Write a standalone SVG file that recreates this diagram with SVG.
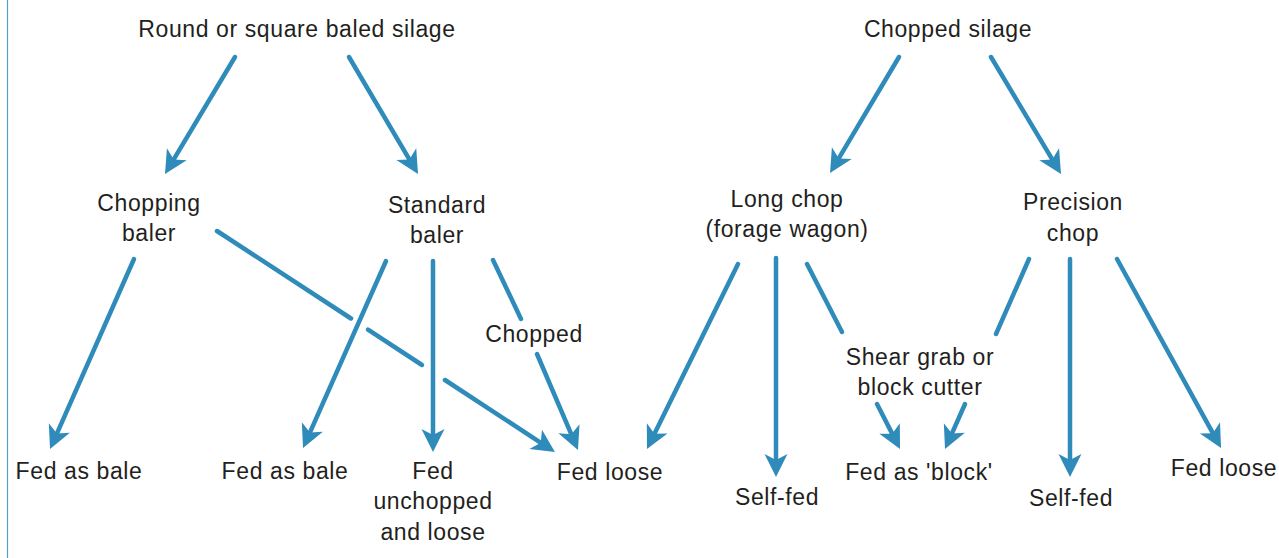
<svg xmlns="http://www.w3.org/2000/svg" width="1279" height="558" viewBox="0 0 1279 558">
<style>
  text { font-family: "Liberation Sans", Arial, sans-serif; font-size: 23px; fill: #231f20; text-anchor: middle; letter-spacing: 0.6px; }
  .c { stroke: #2e8bba; stroke-width: 4.5; fill: none; stroke-linecap: round; }
  .a { marker-end: url(#ah); }
</style>
<defs>
  <marker id="ah" markerUnits="userSpaceOnUse" viewBox="-10 -13 28 26" refX="0" refY="0" markerWidth="28" markerHeight="26" orient="auto" overflow="visible">
    <path d="M15,0 L-8,-11.5 L-2,0 L-8,11.5 Z" fill="#2e8bba"/>
  </marker>
</defs>
<rect x="0" y="0" width="1279" height="558" fill="#ffffff"/>
<line x1="7.5" y1="0" x2="7.5" y2="558" stroke="#5b9bc8" stroke-width="1.2"/>

<g id="connectors">
  <path class="c a" d="M235,57 L172.7,161.1"/>
  <path class="c a" d="M349,57 L410.4,161.1"/>
  <path class="c a" d="M899,57 L837.7,160.1"/>
  <path class="c a" d="M991,57 L1053.3,161.1"/>
  <path class="c a" d="M134,259 L56.1,435.3"/>
  <path class="c" d="M217,231 L351,318.5"/>
  <path class="c" d="M368,329.7 L422,365"/>
  <path class="c a" d="M445,380 L542.4,443.8"/>
  <path class="c a" d="M386,261 L309.1,434.3"/>
  <path class="c a" d="M433,261 L433,437"/>
  <path class="c" d="M493,260 L521,319"/>
  <path class="c a" d="M537,354 L572.1,436.2"/>
  <path class="c a" d="M738,264 L653.6,435.5"/>
  <path class="c a" d="M776,258 L776,462"/>
  <path class="c" d="M807,264 L842,332"/>
  <path class="c a" d="M877,404 L893.2,435.6"/>
  <path class="c a" d="M965,404 L951.1,435.3"/>
  <path class="c" d="M1029,259 L996,334"/>
  <path class="c a" d="M1070,259 L1070,462"/>
  <path class="c a" d="M1117,259 L1213.8,434.9"/>
</g>

<g id="n-round"><text x="297" y="37">Round or square baled silage</text></g>
<g id="n-chopped-silage"><text x="948" y="37">Chopped silage</text></g>
<g id="n-chopping-baler"><text x="149" y="211">Chopping</text><text x="149" y="241">baler</text></g>
<g id="n-standard-baler"><text x="437" y="213">Standard</text><text x="437" y="243">baler</text></g>
<g id="n-long-chop"><text x="787" y="207">Long chop</text><text x="787" y="237">(forage wagon)</text></g>
<g id="n-precision-chop"><text x="1073" y="210">Precision</text><text x="1073" y="241">chop</text></g>
<g id="n-chopped"><text x="534" y="342">Chopped</text></g>
<g id="n-shear"><text x="920" y="365">Shear grab or</text><text x="920" y="395">block cutter</text></g>
<g id="n-fed-bale-1"><text x="79" y="479">Fed as bale</text></g>
<g id="n-fed-bale-2"><text x="285" y="479">Fed as bale</text></g>
<g id="n-fed-unchopped"><text x="433" y="479">Fed</text><text x="433" y="509">unchopped</text><text x="433" y="540">and loose</text></g>
<g id="n-fed-loose-1"><text x="610" y="480">Fed loose</text></g>
<g id="n-self-fed-1"><text x="777" y="505">Self-fed</text></g>
<g id="n-fed-block"><text x="919" y="480">Fed as 'block'</text></g>
<g id="n-self-fed-2"><text x="1071" y="506">Self-fed</text></g>
<g id="n-fed-loose-2"><text x="1224" y="476">Fed loose</text></g>
</svg>
